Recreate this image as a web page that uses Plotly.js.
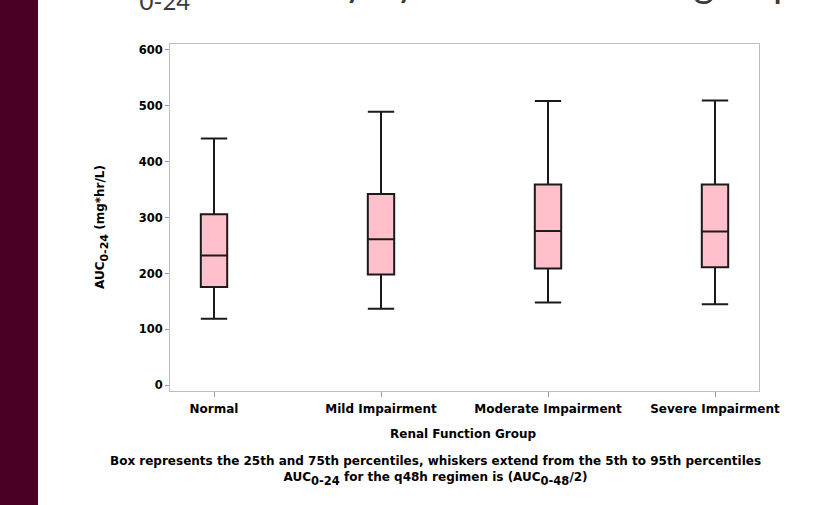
<!DOCTYPE html>
<html>
<head>
<meta charset="utf-8">
<script src="https://cdn.plot.ly/plotly-3.0.1.min.js"></script>
<style>
  html, body { margin: 0; padding: 0; background: #ffffff; }
  #chart { width: 815px; height: 505px; }
</style>
</head>
<body>
<div id="chart"></div>
<script>
// ---- Data ----
var groups = ["Normal", "Mild Impairment", "Moderate Impairment", "Severe Impairment"];
var p5     = [119, 137, 148, 145];   // lower whisker (5th percentile)
var p25    = [176, 198, 209, 211];   // box bottom (25th percentile)
var median = [232, 261, 276, 275];
var p75    = [306, 342, 359, 359];   // box top (75th percentile)
var p95    = [441, 489, 508, 509];   // upper whisker (95th percentile)
var yTicks = [0, 100, 200, 300, 400, 500, 600];

var W = 815, H = 505;
var M = {l: 170, r: 56, t: 44, b: 114};
var pw = W - M.l - M.r, ph = H - M.t - M.b;
function px(x) { return (x - M.l) / pw; }
function py(y) { return (H - M.b - y) / ph; }

var font = "DejaVu Sans, Verdana, sans-serif";
// deeper subscript: nested <sub> for a larger downward shift, span restores the size
function sub(t, size) { return "<sub><sub><span style=\"font-size:" + size + "px\">" + t + "</span></sub></sub>"; }

var trace = {
  type: "box",
  x: groups,
  q1: p25,
  median: median,
  q3: p75,
  lowerfence: p5,
  upperfence: p95,
  boxpoints: false,
  width: 0.158,
  whiskerwidth: 1,
  fillcolor: "#ffc0cb",
  line: {color: "#1a1a1a", width: 2},
  hoverinfo: "skip",
  showlegend: false
};

var layout = {
  width: W, height: H,
  margin: M,
  paper_bgcolor: "#ffffff",
  plot_bgcolor: "#ffffff",
  font: {family: font, color: "#000000", size: 12},
  xaxis: {
    type: "category",
    range: [-0.2635, 3.2635],
    showline: true, mirror: true, linecolor: "#bdbdbd", linewidth: 1,
    ticks: "outside", ticklen: 5, tickcolor: "#9a9a9a", tickwidth: 1,
    ticklabelstandoff: 2,
    showgrid: false, zeroline: false,
    tickfont: {family: font, size: 12, weight: "bold", color: "#000"},
    fixedrange: true
  },
  yaxis: {
    range: [-10, 610],
    tickvals: yTicks,
    showline: true, mirror: true, linecolor: "#bdbdbd", linewidth: 1,
    ticks: "outside", ticklen: 4, tickcolor: "#9a9a9a", tickwidth: 1,
    showgrid: false, zeroline: false,
    tickfont: {family: font, size: 11.5, weight: "bold", color: "#000"},
    fixedrange: true
  },
  shapes: [
    {type: "rect", xref: "paper", yref: "paper",
     x0: px(0), x1: px(38), y0: py(H + 5), y1: py(-5),
     fillcolor: "#4a0024", line: {width: 0}, layer: "above"}
  ],
  annotations: [
    {text: "AUC" + sub("0-24", 24) + " Summary by", xref: "paper", yref: "paper",
     x: px(55), y: py(17), xanchor: "left", yanchor: "bottom", showarrow: false,
     font: {family: "Lato, sans-serif", size: 40, color: "#3a3a3a"}},
    {text: "Renal Function group", xref: "paper", yref: "paper",
     x: px(797), y: py(8), xanchor: "right", yanchor: "bottom", showarrow: false,
     font: {family: "Lato, sans-serif", size: 40, color: "#3a3a3a"}},
    {text: "AUC" + sub("0-24", 11) + " (mg*hr/L)", xref: "paper", yref: "paper",
     x: px(102), y: py(227), xanchor: "center", yanchor: "middle", textangle: -90,
     showarrow: false, font: {family: font, size: 12, weight: "bold", color: "#000"}},
    {text: "Renal Function Group", xref: "paper", yref: "paper",
     x: px(463), y: py(434), xanchor: "center", yanchor: "middle",
     showarrow: false, font: {family: font, size: 12, weight: "bold", color: "#000"}},
    {text: "Box represents the 25th and 75th percentiles, whiskers extend from the 5th to 95th percentiles<br>AUC" + sub("0-24", 11.5) + " for the q48h regimen is (AUC" + sub("0-48", 11.5) + "/2)",
     xref: "paper", yref: "paper",
     x: px(435), y: py(471), xanchor: "center", yanchor: "middle", align: "center",
     showarrow: false, font: {family: font, size: 12, weight: "bold", color: "#000"}}
  ]
};

Plotly.newPlot("chart", [trace], layout, {displayModeBar: false, staticPlot: true});
</script>
</body>
</html>
